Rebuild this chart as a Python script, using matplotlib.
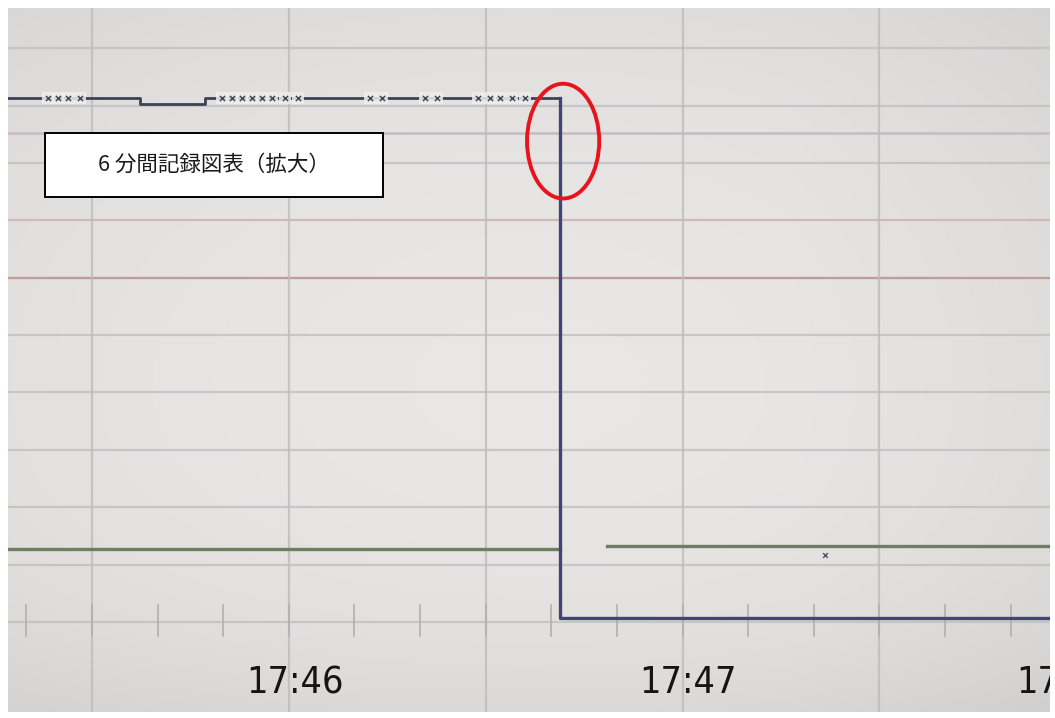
import numpy as np
import matplotlib.pyplot as plt
from matplotlib.patches import Ellipse, Rectangle

plt.rcParams['font.family'] = ['Noto Sans CJK JP', 'DejaVu Sans']

# 横軸: 17:45:00 からの経過秒, 縦軸: 記録紙の目盛
x_start, x_end = 17.2, 176.0
y_low, y_high = -1.57, 10.7

# 上側の記録線(6分間記録, 17:46:41 に下限まで落ちる)
trace_sec = [17.2, 37.3, 37.3, 47.2, 47.2, 101.3, 101.3, 176.0]
trace_val = [9.13, 9.13, 9.02, 9.02, 9.13, 9.13, 0.07, 0.07]

# 下側の緑の記録線
green_sec = [17.2, 101.3, np.nan, 108.5, 176.0]
green_val = [1.27, 1.27, np.nan, 1.33, 1.33]

# 記録線上の打点マーク
event_sec = [23.3, 24.8, 26.3, 28.1, 49.8, 51.3, 52.8, 54.4, 55.9, 57.4,
             59.4, 61.4, 72.3, 74.2, 80.7, 82.6, 88.8, 90.6, 92.2, 94.0, 96.0]

# 時刻目盛(ラベルの中心位置)
tick_sec = [61.0, 120.9, 178.3]
tick_labels = ['17:46', '17:47', '17:48']

fig = plt.figure(figsize=(10.55, 7.18), dpi=100, facecolor='white')
ax = fig.add_axes([8 / 1055, 6 / 718, 1042 / 1055, 704 / 718])
ax.set_xlim(x_start, x_end)
ax.set_ylim(y_low, y_high)
ax.axis('off')

# 記録紙の地色(周辺がやや暗い)
gy, gx = np.mgrid[0:1:200j, 0:1:300j]
shade = (0.915 - 0.10 * (gx - 0.5) ** 2 - 0.06 * (1 - gy) ** 6
         - 0.05 * np.clip(gx - 0.75, 0, 1) - 0.04 * gy ** 4)
bg = np.dstack([shade, shade * 0.995, shade * 0.99])
ax.imshow(bg, extent=[0, 1, 0, 1], transform=ax.transAxes, aspect='auto',
          origin='lower', zorder=0)

# 横の罫線
for lvl in range(0, 11):
    ax.axhline(lvl, color='#bdbdbf', lw=1.6, alpha=0.75, zorder=1)
ax.axhline(8.52, color='#cabccb', lw=2.0, zorder=1)
ax.axhline(7.0, color='#d3b8b8', lw=1.4, zorder=1)
ax.axhline(6.0, color='#c29c9c', lw=1.6, zorder=1)

# 縦の罫線(30秒ごと)
for s in range(30, 160, 30):
    ax.axvline(s, color='#bcbcbe', lw=1.6, alpha=0.8, zorder=1)

# 下端の10秒刻みの目盛
for s in range(20, 180, 10):
    ax.plot([s, s], [-0.25, 0.3], color='#b0b0b2', lw=1.2, zorder=1)

# 記録線
ax.plot(green_sec, green_val, color='#6c7f62', lw=2.4, zorder=3)
ax.plot(trace_sec[:6], trace_val[:6], color='#3c4256', lw=2.0, zorder=4)
ax.plot(trace_sec[5:], trace_val[5:], color='#3f4675', lw=2.4, zorder=4)

# 打点マーク
ev_y = np.interp(event_sec, trace_sec[:6], trace_val[:6])
ax.scatter(event_sec, ev_y, s=70, marker='s', color='#eeeeee', alpha=0.85,
           linewidths=0, zorder=5)
ax.scatter(event_sec, ev_y, s=14, marker='x', color='#4a4a55', linewidths=1.1,
           zorder=6)
ax.scatter([141.7], [1.17], s=12, marker='x', color='#55556a', linewidths=1.0,
           zorder=6)

# 赤丸の注記
ax.add_patch(Ellipse((101.8, 8.38), 11.0, 2.0, fill=False, ec='#e8141c',
                     lw=2.8, zorder=7))

# 表題の枠
ax.add_patch(Rectangle((22.8, 7.40), 51.5, 1.12, fc='white', ec='black',
                       lw=1.4, zorder=8))
ax.text(48.55, 7.96, '6 分間記録図表（拡大）', ha='center', va='center',
        fontsize=15.5, color='#1a1a1a', zorder=9)

# 時刻ラベル
for s, lab in zip(tick_sec, tick_labels):
    ax.text(s, -1.07, lab, ha='center', va='center', fontsize=27,
            family='DejaVu Sans', fontstretch='condensed', color='#151515',
            clip_on=True, zorder=9)

fig.savefig('out.png', dpi=100, facecolor='white')
